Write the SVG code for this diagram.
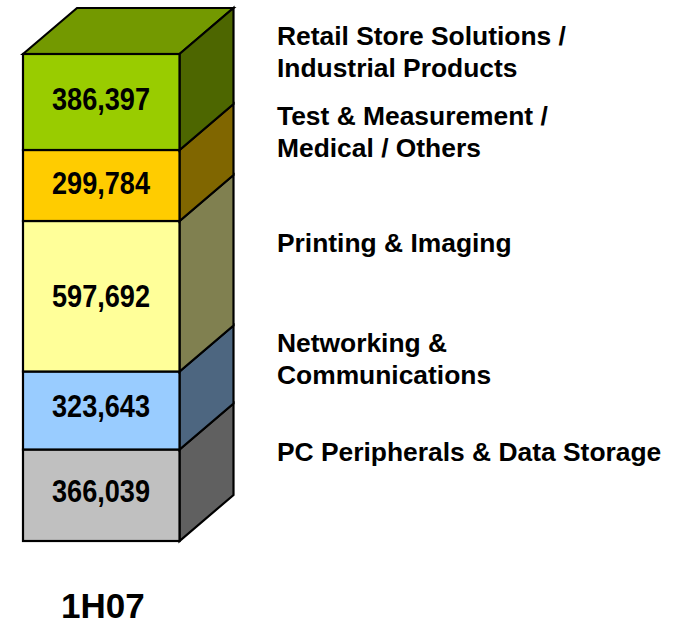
<svg xmlns="http://www.w3.org/2000/svg" width="679" height="630" viewBox="0 0 679 630">
<style>
.f{stroke:#000;stroke-width:2.2;stroke-linejoin:miter}
.v{font-family:"Liberation Sans",Arial,sans-serif;font-weight:bold;font-size:31px;fill:#000;text-anchor:middle}
.l{font-family:"Liberation Sans",Arial,sans-serif;font-weight:bold;font-size:26.4px;fill:#000}
.t{font-family:"Liberation Sans",Arial,sans-serif;font-weight:bold;font-size:35px;fill:#000}
</style>
<rect width="679" height="630" fill="#fff"/>
<g id="seg-pc">
<polygon class="f" points="179.5,449.5 233.5,403.5 233.5,495 179.5,541" fill="#606060"/>
<rect class="f" x="23" y="449.5" width="156.5" height="91.5" fill="#C0C0C0"/>
<text class="v" x="101" y="502" textLength="98" lengthAdjust="spacingAndGlyphs">366,039</text>
</g>
<g id="seg-net">
<polygon class="f" points="179.5,371.5 233.5,325.5 233.5,403.5 179.5,449.5" fill="#4D6680"/>
<rect class="f" x="23" y="371.5" width="156.5" height="78" fill="#99CCFF"/>
<text class="v" x="101" y="417" textLength="98" lengthAdjust="spacingAndGlyphs">323,643</text>
</g>
<g id="seg-print">
<polygon class="f" points="179.5,221 233.5,175 233.5,325.5 179.5,371.5" fill="#808050"/>
<rect class="f" x="23" y="221" width="156.5" height="150.5" fill="#FFFF99"/>
<text class="v" x="101" y="307" textLength="98" lengthAdjust="spacingAndGlyphs">597,692</text>
</g>
<g id="seg-test">
<polygon class="f" points="179.5,150 233.5,104 233.5,175 179.5,221" fill="#806600"/>
<rect class="f" x="23" y="150" width="156.5" height="71" fill="#FFCC00"/>
<text class="v" x="101" y="194" textLength="98" lengthAdjust="spacingAndGlyphs">299,784</text>
</g>
<g id="seg-retail">
<polygon class="f" points="23,54 77,8 233.5,8 179.5,54" fill="#739900"/>
<polygon class="f" points="179.5,54 233.5,8 233.5,104 179.5,150" fill="#4D6600"/>
<rect class="f" x="23" y="54" width="156.5" height="96" fill="#99CC00"/>
<text class="v" x="101" y="110" textLength="98" lengthAdjust="spacingAndGlyphs">386,397</text>
</g>
<g id="labels">
<text class="l" x="277" y="45">Retail Store Solutions /</text>
<text class="l" x="277" y="77">Industrial Products</text>
<text class="l" x="277" y="125">Test &amp; Measurement /</text>
<text class="l" x="277" y="157">Medical / Others</text>
<text class="l" x="277" y="252">Printing &amp; Imaging</text>
<text class="l" x="277" y="352">Networking &amp;</text>
<text class="l" x="277" y="384">Communications</text>
<text class="l" x="277" y="461">PC Peripherals &amp; Data Storage</text>
</g>
<g id="title">
<text class="t" x="61" y="618">1H07</text>
</g>
</svg>
